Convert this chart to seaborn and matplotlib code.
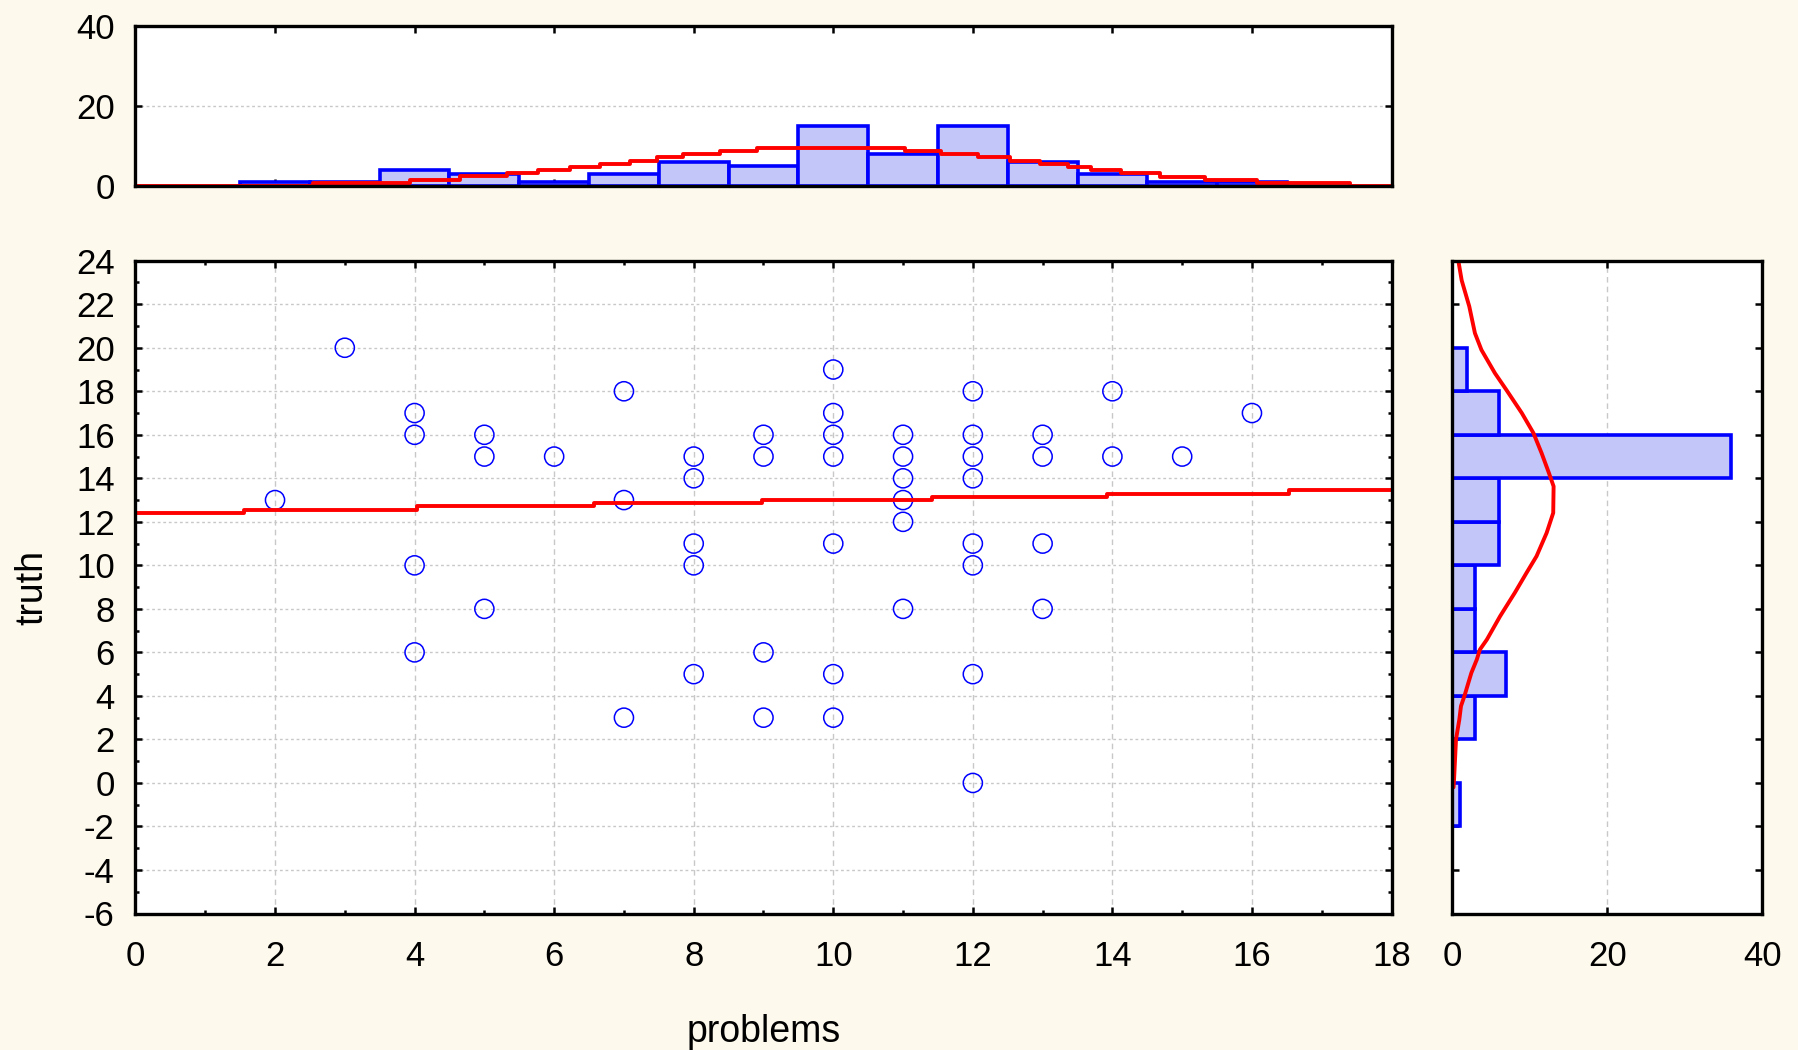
import numpy as np
import seaborn as sns
import matplotlib.pyplot as plt
from matplotlib.ticker import MultipleLocator, FixedLocator

# scatter points as they show on the plot (overlapping cases drawn once)
problems = [2, 3, 4, 4, 4, 4, 5, 5, 5, 6, 7, 7, 7,
            8, 8, 8, 8, 8, 9, 9, 9, 9,
            10, 10, 10, 10, 10, 10, 10,
            11, 11, 11, 11, 11, 11,
            12, 12, 12, 12, 12, 12, 12, 12,
            13, 13, 13, 13, 14, 14, 15, 16]
truth = [13, 20, 17, 16, 10, 6, 16, 15, 8, 15, 18, 13, 3,
         15, 14, 11, 10, 5, 16, 15, 6, 3,
         19, 17, 16, 15, 11, 5, 3,
         16, 15, 14, 13, 12, 8,
         18, 16, 15, 14, 11, 10, 5, 0,
         16, 15, 11, 8, 18, 15, 15, 17]

# marginal histogram counts
problem_values = [2, 3, 4, 5, 6, 7, 8, 9, 10, 11, 12, 13, 14, 15, 16]
problem_counts = [1, 1, 4, 3, 1, 3, 6, 5, 15, 8, 15, 6, 3, 1, 1]
truth_edges = [-2, 0, 2, 4, 6, 8, 10, 12, 14, 16, 18, 20]
truth_counts = [1, 0, 3, 7, 3, 3, 6, 6, 36, 6, 2]

# expected normal counts, top marginal (step line)
top_fit_x = [0, 2.54, 3.93, 4.65, 5.32, 5.77, 6.23, 6.66, 7.09, 7.47, 7.85, 8.38,
             8.9, 11.03, 11.55, 12.08, 12.53, 12.96, 13.37, 13.7, 14.13, 14.68,
             15.33, 16.07, 17.4, 18]
top_fit_n = [0, 0.8, 1.6, 2.5, 3.3, 4.0, 4.75, 5.6, 6.3, 7.25, 8.1, 8.75,
             9.5, 8.75, 8.1, 7.25, 6.3, 5.67, 4.83, 4.1, 3.25, 2.4,
             1.6, 0.9, 0, 0]

# expected normal counts, right marginal
side_fit_truth = [24.0, 23.1, 21.9, 20.67, 19.9, 18.83, 18.07, 17.0, 16.08, 15.16,
                  14.24, 13.63, 12.41, 11.49, 10.42, 9.65, 8.74, 7.66, 6.59, 6.13,
                  5.67, 5.06, 3.99, 3.53, 2.92, 2.0, 0.17, -0.2]
side_fit_n = [0.82, 1.25, 2.23, 2.96, 3.8, 5.54, 7.0, 9.0, 10.5, 11.55,
              12.5, 13.1, 13.05, 12.2, 10.9, 9.6, 8.1, 6.2, 4.5, 3.6,
              3.2, 2.5, 1.6, 1.16, 0.95, 0.52, 0.27, 0.2]

# linear fit line (as drawn, stepped)
reg_x = [0, 1.56, 4.04, 6.57, 8.98, 11.42, 13.92, 16.53, 18]
reg_y = [12.41, 12.56, 12.71, 12.85, 12.99, 13.14, 13.28, 13.45, 13.45]

# esthetics
bg = "#FDF9ED"
blue = "#0000FF"
bar_fill = "#C3C6F8"
grid_color = "#C8C8C8"
font_size = 25
label_size = 27

sns.set_style("white")
plt.rcParams["font.family"] = ["Liberation Sans", "DejaVu Sans"]
plt.rcParams["axes.unicode_minus"] = False

fig = plt.figure(figsize=(17.99, 10.5), dpi=100, facecolor=bg)
ax = fig.add_axes([0.0753, 0.130, 0.6982, 0.6217])
ax_top = fig.add_axes([0.0753, 0.8224, 0.6982, 0.1524])
ax_right = fig.add_axes([0.8071, 0.130, 0.1725, 0.6217])

# main scatter
sns.scatterplot(x=problems, y=truth, ax=ax, s=190, facecolors="none",
                edgecolor=blue, linewidth=1.1, zorder=3)
ax.plot(reg_x, reg_y, drawstyle="steps-post", color="red", lw=2.8, zorder=4)

# top marginal
problem_edges = [v - 0.5 for v in problem_values] + [problem_values[-1] + 0.5]
sns.histplot(x=problem_values, weights=problem_counts, bins=problem_edges,
             ax=ax_top, color=bar_fill, edgecolor=blue, linewidth=2.6, alpha=1)
ax_top.plot(top_fit_x, top_fit_n, drawstyle="steps-post", color="red", lw=2.8, zorder=4)

# right marginal
truth_mid = [(a + b) / 2 for a, b in zip(truth_edges[:-1], truth_edges[1:])]
sns.histplot(y=truth_mid, weights=truth_counts, bins=truth_edges,
             ax=ax_right, color=bar_fill, edgecolor=blue, linewidth=2.6, alpha=1)
ax_right.plot(side_fit_n, side_fit_truth, color="red", lw=2.8, zorder=4)

for a in (ax, ax_top, ax_right):
    a.set_facecolor("white")
    a.set_axisbelow(True)
    for sp in a.spines.values():
        sp.set_visible(True)
        sp.set_color("black")
        sp.set_linewidth(2.4)
        sp.set_zorder(5)
    a.tick_params(which="both", direction="in", top=True, right=True,
                  bottom=True, left=True, width=1.8, colors="black",
                  labelsize=font_size, pad=15)
    a.tick_params(which="major", length=5)
    a.tick_params(which="minor", length=2.8)
    a.set_xlabel("")
    a.set_ylabel("")

# main axes
ax.set_xlim(0, 18)
ax.set_ylim(-6, 24)
ax.xaxis.set_major_locator(MultipleLocator(2))
ax.xaxis.set_minor_locator(MultipleLocator(1))
ax.yaxis.set_major_locator(MultipleLocator(2))
ax.yaxis.set_minor_locator(MultipleLocator(1))
ax.tick_params(axis="x", pad=19)
ax.grid(axis="x", which="major", color=grid_color, linestyle=(0, (4, 3)), lw=1.0)
ax.grid(axis="y", which="major", color=grid_color, linestyle=(0, (2, 2)), lw=1.0)
ax.set_xlabel("problems", fontsize=label_size, va="center", color="black")
ax.xaxis.set_label_coords(0.5, -0.182)
ax.set_ylabel("truth", fontsize=label_size, va="center", color="black")
ax.yaxis.set_label_coords(-0.0824, 0.5)

# top axes
ax_top.set_xlim(0, 18)
ax_top.set_ylim(0, 40)
ax_top.xaxis.set_major_locator(MultipleLocator(2))
ax_top.yaxis.set_major_locator(FixedLocator([0, 20, 40]))
ax_top.tick_params(axis="x", labelbottom=False)
ax_top.grid(axis="y", which="major", color=grid_color, linestyle=(0, (2, 2)), lw=1.0)

# right axes
ax_right.set_xlim(0, 40)
ax_right.set_ylim(-6, 24)
ax_right.xaxis.set_major_locator(FixedLocator([0, 20, 40]))
ax_right.yaxis.set_major_locator(MultipleLocator(2))
ax_right.tick_params(axis="y", labelleft=False)
ax_right.tick_params(axis="x", pad=19)
ax_right.grid(axis="x", which="major", color=grid_color, linestyle=(0, (4, 3)), lw=1.0)

fig.savefig("out.png", dpi=100, facecolor=bg)
